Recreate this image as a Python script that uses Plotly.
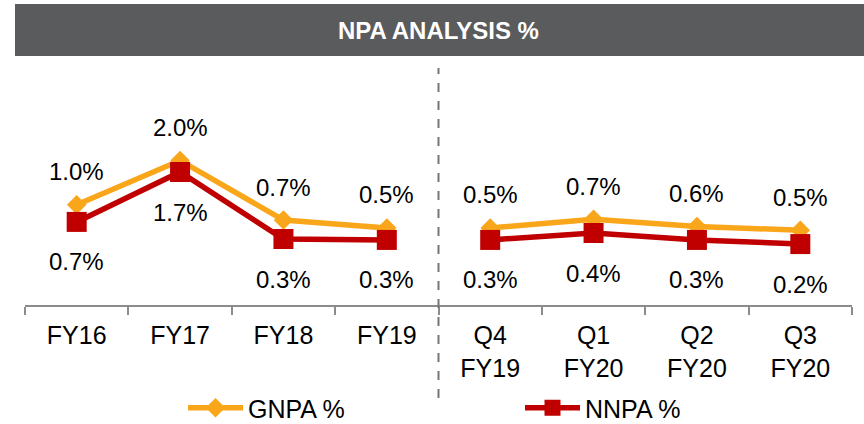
import plotly.graph_objects as go

categories = ["FY16", "FY17", "FY18", "FY19", "Q4<br>FY19", "Q1<br>FY20", "Q2<br>FY20", "Q3<br>FY20"]
gnpa = [1.03, 1.99, 0.70, 0.53, 0.53, 0.72, 0.56, 0.48]
nnpa = [0.66, 1.74, 0.29, 0.27, 0.27, 0.42, 0.27, 0.18]
segments = [(0, 4), (4, 8)]
title_text = "NPA ANALYSIS %"

FONT = "Liberation Sans, Arial, sans-serif"
ORANGE = "#FAA61A"
RED = "#C00000"

W, H = 864, 424
ML, MR, MT, MB = 25, 12, 60, 119
plot_w = W - ML - MR
plot_h = H - MT - MB


def px_x(p):
    return (p - ML) / plot_w


def px_y(p):
    return (H - MB - p) / plot_h


fig = go.Figure()

series = [
    ("GNPA %", gnpa, ORANGE, "diamond", 15, 33, "legend"),
    ("NNPA %", nnpa, RED, "square", 20, -40, "legend2"),
]

for name, vals, color, sym, msize, shift, leg in series:
    for i, (a, b) in enumerate(segments):
        fig.add_trace(go.Scatter(
            x=categories[a:b], y=vals[a:b], name=name,
            mode="lines+markers",
            line=dict(color=color, width=5.5),
            marker=dict(symbol=sym, size=msize, color=color),
            legendgroup=name, showlegend=(i == 0), legend=leg,
            hoverinfo="skip",
        ))
    for c, v in zip(categories, vals):
        fig.add_annotation(
            x=c, y=v, xref="x", yref="y", text=f"{v:.1f}%",
            showarrow=False, yshift=shift,
            font=dict(family=FONT, size=24, color="#000000"),
        )

# title bar
fig.add_shape(type="rect", xref="paper", yref="paper",
              x0=px_x(15), x1=px_x(864), y0=px_y(56), y1=px_y(4),
              fillcolor="#5A5B5D", line=dict(width=0), layer="below")
fig.add_annotation(xref="paper", yref="paper", x=px_x(438), y=px_y(30),
                   xanchor="center", yanchor="middle",
                   text=f"<b>{title_text}</b>", showarrow=False,
                   font=dict(family=FONT, size=24, color="#FFFFFF"))

# dashed separator
fig.add_shape(type="line", xref="x", yref="paper",
              x0=3.5, x1=3.5, y0=px_y(398), y1=px_y(68),
              line=dict(color="#767676", width=2, dash="dash"))

zero_px = 252.4
scale = 46.2
ymin = -(H - MB - zero_px) / scale
ymax = (zero_px - MT) / scale

leg_common = dict(orientation="h", yanchor="middle", xanchor="left",
                  font=dict(family=FONT, size=25, color="#000000"),
                  itemwidth=55, bgcolor="rgba(0,0,0,0)")

fig.update_layout(
    width=W, height=H,
    margin=dict(l=ML, r=MR, t=MT, b=MB, autoexpand=False),
    paper_bgcolor="white", plot_bgcolor="white",
    font=dict(family=FONT, size=24, color="#000000"),
    xaxis=dict(type="category", showline=True, linecolor="#8C8C8C", linewidth=2,
               ticks="outside", tickson="boundaries", ticklen=8, tickwidth=2,
               tickcolor="#8C8C8C", showgrid=False, zeroline=False,
               ticklabelstandoff=7,
               tickfont=dict(family=FONT, size=25, color="#000000"),
               range=[-0.5, 7.5], fixedrange=True),
    yaxis=dict(visible=False, range=[ymin, ymax], showgrid=False, zeroline=False),
    showlegend=True,
    legend=dict(x=px_x(183), y=px_y(408), **leg_common),
    legend2=dict(x=px_x(520), y=px_y(408), **leg_common),
)

fig.write_html("out.html", config={"displayModeBar": False},
               post_script="document.body.style.margin='0';")
